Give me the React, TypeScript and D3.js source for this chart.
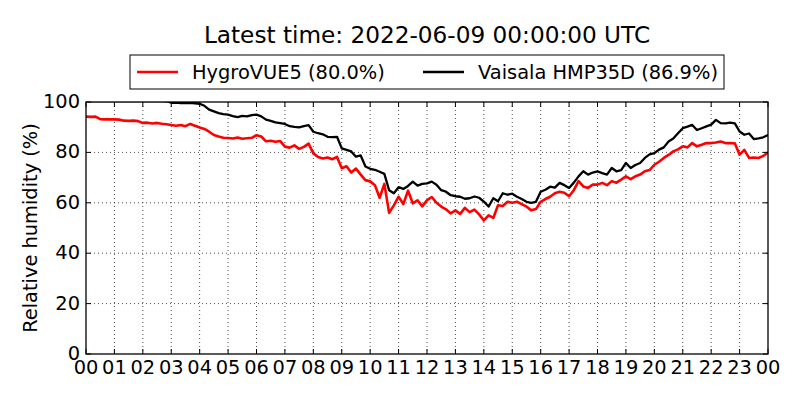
import React from "react";
import * as d3 from "d3";

const TITLE = "Latest time: 2022-06-09 00:00:00 UTC";
const Y_LABEL = "Relative humidity (%)";
const SERIES_NAMES = ["HygroVUE5 (80.0%)", "Vaisala HMP35D (86.9%)"];
const SERIES_COLORS = ["#ff0000", "#000000"];
const START_UTC = Date.UTC(2022, 5, 8, 0, 0, 0);
const END_UTC = Date.UTC(2022, 5, 9, 0, 0, 0);
const STEP_MS = 10 * 60 * 1000;
const Y_TICKS = [0, 20, 40, 60, 80, 100];

// relative humidity (%), one row per hour, 10-minute samples, last value at 24:00
const hygroVUE5 = [
  94.2, 94.1, 94.2, 93.2, 93.1, 93.1,
  93.1, 93.0, 92.6, 92.5, 92.6, 92.4,
  91.7, 91.8, 91.5, 91.7, 91.4, 91.2,
  90.9, 90.6, 90.9, 90.4, 91.3, 90.6,
  89.9, 89.3, 88.2, 86.9, 86.3, 85.8,
  85.7, 85.5, 85.9, 85.4, 85.6, 85.8,
  86.8, 86.3, 84.4, 84.6, 84.2, 84.5,
  82.3, 81.9, 82.8, 81.4, 82.2, 83.5,
  79.6, 78.2, 77.6, 78.0, 77.3, 78.2,
  73.7, 74.5, 72.0, 73.6, 71.2, 69.0,
  68.5, 67.0, 62.0, 67.5, 56.0, 59.0,
  62.4, 59.5, 64.8, 59.8, 61.0, 58.6,
  61.0, 62.3, 60.0, 58.5, 57.4, 55.8,
  57.0, 55.6, 58.0, 56.3, 57.3, 55.4,
  53.0, 55.0, 54.0, 59.0, 58.7, 60.4,
  60.0, 60.4, 59.5, 58.5, 57.0, 57.5,
  60.4, 61.5, 62.4, 63.8, 64.4, 64.0,
  62.6, 65.0, 68.6, 66.5, 65.9, 67.2,
  67.2, 67.9, 67.0, 68.6, 68.0, 69.2,
  70.5, 69.4, 70.5, 71.2, 72.5, 73.0,
  75.1, 76.3, 77.8, 79.0, 80.4, 81.2,
  82.4, 82.0, 83.7, 82.4, 83.0, 83.7,
  83.7, 83.9, 84.3, 83.7, 83.7, 83.6,
  79.1, 81.0, 77.8, 78.0, 77.8, 78.6,
  80.0,
];

const vaisalaHMP35D = [
  100.4, 100.4, 100.4, 100.4, 100.4, 100.4,
  100.4, 100.4, 100.4, 100.4, 100.4, 100.4,
  100.4, 100.4, 100.4, 100.4, 100.4, 100.3,
  99.7, 99.8, 99.6, 99.6, 99.7, 99.5,
  99.3, 98.5, 97.0, 96.3, 95.6, 95.2,
  95.0, 94.4, 94.0, 94.5, 94.3, 94.8,
  95.0, 94.3, 93.0, 92.5, 91.9, 91.6,
  91.3, 90.4, 90.1, 89.9, 90.4, 90.8,
  88.2, 87.6, 87.2, 86.2, 86.1, 86.2,
  81.6, 81.0, 80.4, 78.3, 78.8, 74.4,
  73.5, 73.1, 72.3, 71.5, 65.0, 63.8,
  66.2, 65.5, 66.7, 68.4, 66.8, 67.5,
  67.7, 68.4, 67.2, 65.0, 64.4, 63.0,
  62.6, 62.4, 61.6, 61.8, 62.5, 62.0,
  60.5, 58.5, 61.8, 60.6, 63.8, 63.2,
  63.6, 62.4, 61.5, 60.4, 60.0, 60.4,
  64.4, 65.2, 66.4, 66.0, 67.9, 67.0,
  65.9, 68.0, 70.5, 72.5, 71.2, 72.0,
  72.5, 71.8, 71.2, 73.8, 72.5, 73.0,
  75.8, 73.8, 75.0, 75.8, 77.8, 79.2,
  79.7, 81.1, 82.0, 84.3, 85.5, 87.6,
  89.6, 90.2, 90.9, 88.9, 89.6, 90.3,
  91.0, 92.9, 91.6, 91.5, 91.8, 91.5,
  88.3, 87.0, 87.5, 85.3, 85.6, 86.0,
  86.9,
];

const SERIES = [hygroVUE5, vaisalaHMP35D];
const SERIES_WIDTHS = [2.6, 2.3];

const WIDTH = 800;
const HEIGHT = 400;
const MARGIN = { top: 102, right: 32, bottom: 46, left: 86 };
const FONT = "'DejaVu Sans', sans-serif";
const TICK_LEN = 5;

export default function App() {
  const x = d3
    .scaleUtc()
    .domain([new Date(START_UTC), new Date(END_UTC)])
    .range([MARGIN.left, WIDTH - MARGIN.right]);
  const y = d3
    .scaleLinear()
    .domain([0, 100])
    .range([HEIGHT - MARGIN.bottom, MARGIN.top]);

  const xTicks = x.ticks(d3.utcHour.every(1)!);
  const fmtHour = d3.utcFormat("%H");

  const line = d3
    .line<number>()
    .x((_, i) => x(new Date(START_UTC + i * STEP_MS)))
    .y((d) => y(d));

  const [x0, x1] = x.range();
  const [y0, y1] = y.range();

  return (
    <svg
      width={WIDTH}
      height={HEIGHT}
      style={{ position: "absolute", left: 0, top: 0, background: "#fff" }}
      fontFamily={FONT}
    >
      <defs>
        <clipPath id="plot-area">
          <rect x={x0} y={y1} width={x1 - x0} height={y0 - y1} />
        </clipPath>
      </defs>

      {/* grid */}
      <g stroke="#000" strokeWidth={0.7} strokeDasharray="1,3">
        {xTicks.slice(1, -1).map((t) => (
          <line key={+t} x1={x(t)} x2={x(t)} y1={y1} y2={y0} />
        ))}
        {Y_TICKS.slice(1, -1).map((v) => (
          <line key={v} x1={x0} x2={x1} y1={y(v)} y2={y(v)} />
        ))}
      </g>

      {/* series */}
      <g clipPath="url(#plot-area)" fill="none" strokeLinejoin="round">
        {SERIES.map((s, i) => (
          <path key={i} d={line(s)!} stroke={SERIES_COLORS[i]} strokeWidth={SERIES_WIDTHS[i]} />
        ))}
      </g>

      {/* ticks, inside on all four sides */}
      <g stroke="#000" strokeWidth={1}>
        {xTicks.map((t) => (
          <g key={+t}>
            <line x1={x(t)} x2={x(t)} y1={y0} y2={y0 - TICK_LEN} />
            <line x1={x(t)} x2={x(t)} y1={y1} y2={y1 + TICK_LEN} />
          </g>
        ))}
        {Y_TICKS.map((v) => (
          <g key={v}>
            <line x1={x0} x2={x0 + TICK_LEN} y1={y(v)} y2={y(v)} />
            <line x1={x1} x2={x1 - TICK_LEN} y1={y(v)} y2={y(v)} />
          </g>
        ))}
      </g>

      <rect x={x0} y={y1} width={x1 - x0} height={y0 - y1} fill="none" stroke="#000" strokeWidth={1.3} />

      {/* tick labels */}
      <g fontSize={19.4} fill="#000">
        {xTicks.map((t) => (
          <text key={+t} x={x(t)} y={y0 + 20} textAnchor="middle">
            {fmtHour(t)}
          </text>
        ))}
        {Y_TICKS.map((v) => (
          <text key={v} x={x0 - 6} y={y(v) + 6} textAnchor="end">
            {v}
          </text>
        ))}
        <text transform={`translate(37,${(y0 + y1) / 2}) rotate(-90)`} textAnchor="middle">
          {Y_LABEL}
        </text>
      </g>

      {/* title */}
      <text x={(x0 + x1) / 2} y={43} textAnchor="middle" fontSize={23.2}>
        {TITLE}
      </text>

      {/* legend */}
      <g>
        <rect x={130} y={55} width={594} height={34} fill="#fff" stroke="#000" strokeWidth={1} />
        {SERIES_NAMES.map((name, i) => {
          const lx = i === 0 ? 137 : 423;
          return (
            <g key={name}>
              <line x1={lx} x2={lx + 41} y1={72} y2={72} stroke={SERIES_COLORS[i]} strokeWidth={2.4} />
              <text x={lx + 55} y={79} fontSize={19.4}>
                {name}
              </text>
            </g>
          );
        })}
      </g>
    </svg>
  );
}
